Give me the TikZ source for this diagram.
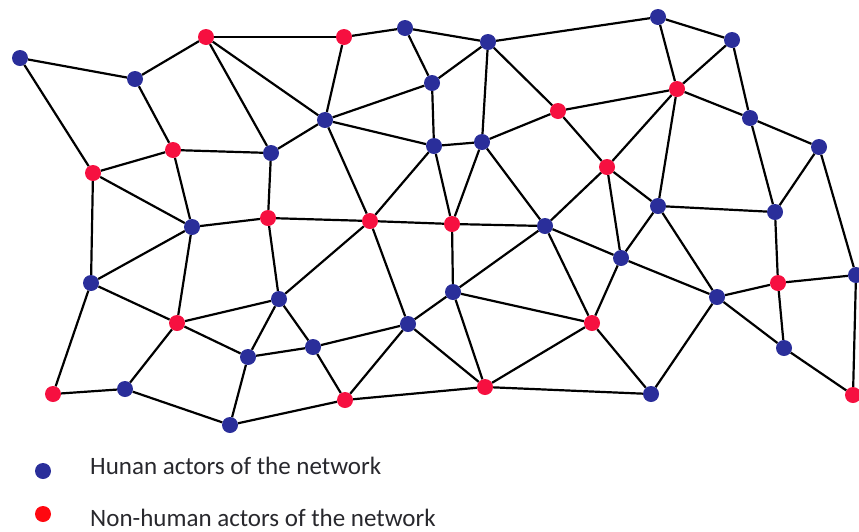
\documentclass[tikz,border=0pt]{standalone}
\usepackage{fontspec}
\setmainfont{Carlito}
\usepackage{xcolor}
\definecolor{humblue}{RGB}{42,46,154}
\definecolor{nonred}{RGB}{246,16,64}
\definecolor{keyred}{RGB}{255,8,16}
\definecolor{keytext}{RGB}{40,40,45}

\begin{document}
\begin{tikzpicture}[x=1pt,y=-1pt,
  actor/.style={circle,inner sep=0pt,minimum size=16pt},
  hum/.style={actor,fill=humblue},
  nonhum/.style={actor,fill=nonred},
  tie/.style={line width=2.2pt},
  keylabel/.style={anchor=base west,inner sep=0pt,text=keytext,font=\fontsize{25}{30}\selectfont}]
\useasboundingbox (0,0) rectangle (859,531);
% human actors (blue)
\foreach \n/\x/\y in {1/20/58, 2/135/79, 5/405/28, 6/488/42, 7/658/17, 8/732/40,
  10/432/83, 11/325/120, 13/750/118, 14/819/147, 16/271/153, 17/434/146,
  18/482/142, 21/658/206, 22/775/212, 23/192/227, 27/545/226, 28/621/258,
  29/856/275, 31/91/283, 32/279/299, 33/453/292, 34/717/297, 36/408/324,
  38/313/347, 39/248/357, 40/784/348, 42/125/389, 45/651/394, 46/230/425}
  \node[hum] (n\n) at (\x,\y) {};
% non-human actors (red)
\foreach \n/\x/\y in {3/206/37, 4/344/37, 9/677/89, 12/558/111, 15/173/150,
  19/607/167, 20/93/173, 24/268/218, 25/370/221, 26/452/224, 30/778/283,
  35/177/323, 37/592/323, 41/53/394, 43/345/400, 44/485/387, 47/853/395}
  \node[nonhum] (n\n) at (\x,\y) {};
% ties between actors
\foreach \a/\b in {1/2, 1/20, 2/3, 2/15, 3/4, 3/11, 3/16, 4/5, 4/11, 5/6, 5/10,
  6/7, 6/10, 6/12, 6/18, 7/8, 7/9, 8/9, 8/13, 9/12, 9/13, 9/19, 9/21, 10/11,
  10/17, 11/16, 11/17, 11/25, 12/18, 12/19, 13/14, 13/22, 14/22, 14/29, 15/16,
  15/20, 15/23, 16/24, 17/18, 17/25, 17/26, 18/26, 18/27, 19/21, 19/27, 19/28,
  20/23, 20/31, 21/22, 21/28, 21/34, 22/30, 23/24, 23/31, 23/35, 24/25, 24/32,
  25/26, 25/32, 25/36, 26/27, 26/33, 27/28, 27/33, 27/37, 28/34, 28/37, 29/30,
  29/47, 30/34, 30/40, 31/35, 31/41, 32/35, 32/38, 32/39, 33/36, 33/37, 33/44,
  34/40, 34/45, 35/39, 35/42, 36/38, 36/43, 36/44, 37/44, 37/45, 38/39, 38/43,
  39/46, 40/47, 41/42, 42/46, 43/44, 43/46, 44/45}
  \draw[tie] (n\a) -- (n\b);
% legend
\node[hum] (keyhum) at (43,471) {};
\node[actor,fill=keyred] (keynon) at (43,514) {};
\node[keylabel] (keyhumtext) at (90,474) {Hunan actors of the network};
\node[keylabel] (keynontext) at (90,526) {Non-human actors of the network};
\end{tikzpicture}
\end{document}
